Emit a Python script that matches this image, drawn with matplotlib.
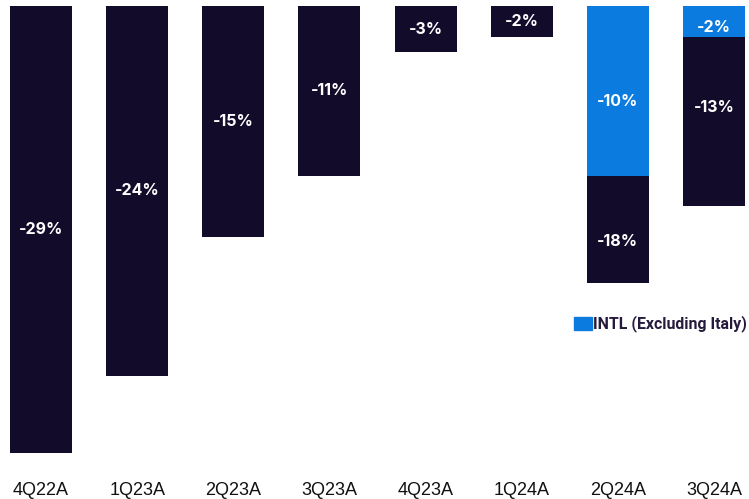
import matplotlib.pyplot as plt
from matplotlib.patches import Patch
import numpy as np

quarters = ["4Q22A", "1Q23A", "2Q23A", "3Q23A", "4Q23A", "1Q24A", "2Q24A", "3Q24A"]
total = [-29, -24, -15, -11, -3, -2, -18, -13]
total_labels = ["-29%", "-24%", "-15%", "-11%", "-3%", "-2%", "-18%", "-13%"]
intl = [0, 0, 0, 0, 0, 0, -11, -2]
intl_labels = ["", "", "", "", "", "", "-10%", "-2%"]

dark = "#120b2a"
blue = "#0b7be0"

fig = plt.figure(figsize=(7.49, 4.99), dpi=100)
ax = fig.add_axes([0, 1 - 470 / 499, 1, 464 / 499])

x = np.arange(len(quarters))
ax.bar(x, total, width=0.645, color=dark)
ax.bar(x, intl, width=0.645, color=blue)

# labels in the stacked bars sit a bit lower than the segment middle
nudge = {6: (-0.7, -0.8), 7: (-0.4, 0.9)}
for i in range(len(quarters)):
    dy_in, dy_tot = nudge.get(i, (0, 0))
    mid = (intl[i] + total[i]) / 2 + dy_tot
    ax.text(x[i], mid, total_labels[i], color="white", ha="center", va="center",
            fontsize=11.5, fontweight="bold", family="Inter")
    if intl_labels[i]:
        ax.text(x[i], intl[i] / 2 + dy_in, intl_labels[i], color="white", ha="center",
                va="center", fontsize=11.5, fontweight="bold", family="Inter")

ax.set_xlim(-0.4265, 7.364)
ax.set_ylim(-30.1, 0)
ax.axis("off")

for i, q in enumerate(quarters):
    ax.text(x[i], -31.4, q, ha="center", va="center", fontsize=13,
            family="Liberation Sans", color="#111111", clip_on=False)

ax.legend(handles=[Patch(color=blue, label="INTL (Excluding Italy)")],
          loc="center right", bbox_to_anchor=(747 / 749, 1 - 318 / 464), frameon=False,
          handlelength=1.08, handleheight=0.85, handletextpad=0.1, borderaxespad=0,
          borderpad=0, prop={"family": "Roboto", "weight": "bold", "size": 11.4},
          labelcolor="#261b3c")

fig.savefig("out.png", dpi=100)
